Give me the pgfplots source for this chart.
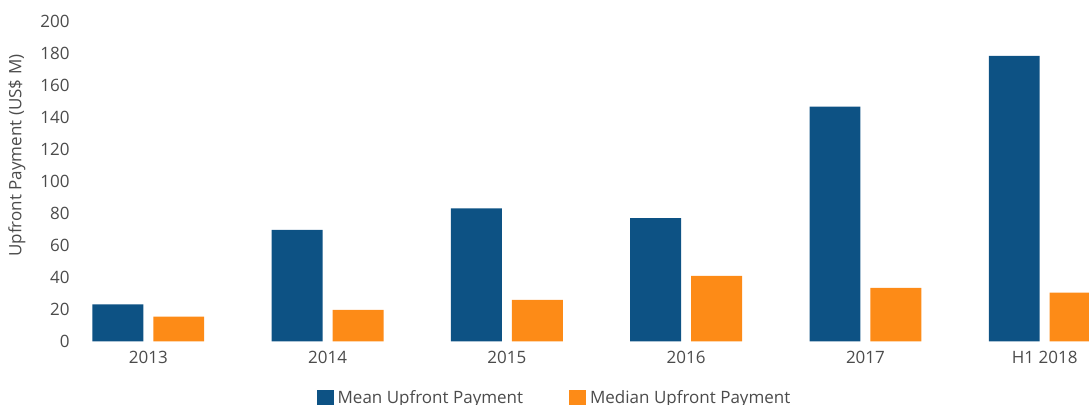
\documentclass[border=0pt]{standalone}
\usepackage{pgfplots}
\pgfplotsset{compat=1.18}
\usepackage{fontspec}
\setmainfont{Open Sans}
\definecolor{meanblue}{RGB}{13,82,132}
\definecolor{medorange}{RGB}{253,139,23}
\definecolor{txt}{RGB}{75,75,75}
\begin{document}
\begin{tikzpicture}
\begin{axis}[
  scale only axis, width=506.25pt, height=160.25pt,
  xmin=-0.4, xmax=5.247, ymin=0, ymax=200,
  ytick={0,20,...,200},
  xtick={0,...,5}, xticklabels={2013,2014,2015,2016,2017,H1 2018},
  axis line style={draw=none}, major tick length=0pt,
  tick label style={font=\fontsize{8.5}{10}\selectfont, text=txt},
  xticklabel style={yshift=-1.2pt},
  /pgf/number format/assume math mode=true,
  ylabel={Upfront Payment (US\$ M)},
  ylabel style={at={(axis description cs:-0.0589,0.58)}, anchor=center, font=\fontsize{8.5}{10}\selectfont, text=txt},
  ybar, bar width=0.284,
  clip=true,
  legend columns=2,
  legend style={draw=none, fill=none, at={(axis description cs:0.473,-0.177)}, anchor=center,
    font=\fontsize{8.5}{10}\selectfont, text=txt,
    /tikz/every even column/.append style={column sep=21pt}},
  legend image code/.code={\fill[#1] (0pt,-4.25pt) rectangle (8.5pt,4.25pt);},
]
\addplot[fill=meanblue, draw=none, bar shift=-0.17] coordinates {(0,23.2) (1,69.6) (2,83.1) (3,76.9) (4,146.5) (5,178.2)};
\addplot[fill=medorange, draw=none, bar shift=0.17] coordinates {(0,15.5) (1,19.7) (2,25.9) (3,40.9) (4,33.4) (5,30.5)};
\legend{Mean Upfront Payment, Median Upfront Payment}
\end{axis}
\pgfresetboundingbox
\path[use as bounding box] (-38.3pt,-31.75pt) rectangle (506.25pt,170.75pt);
\end{tikzpicture}
\end{document}
